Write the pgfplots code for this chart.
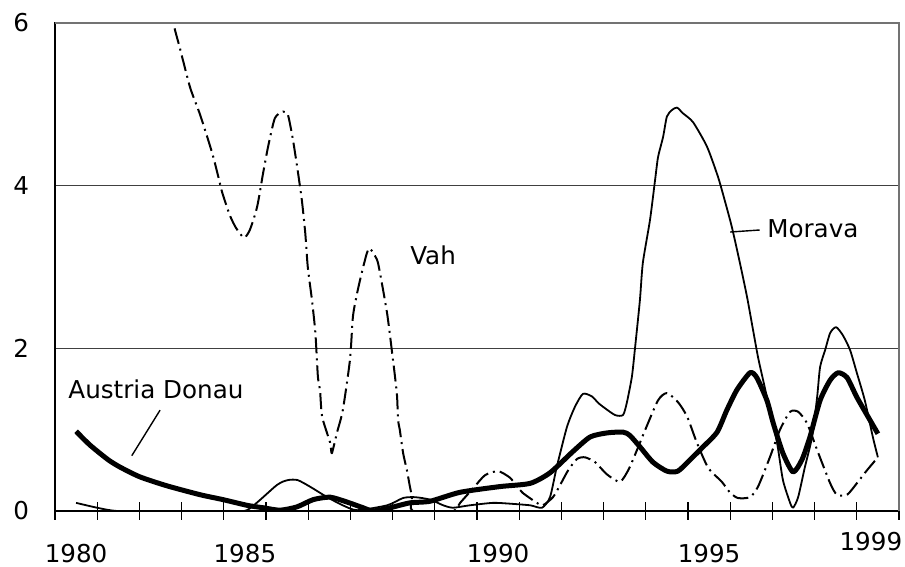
\documentclass[border=0pt]{standalone}
\usepackage{pgfplots}
\pgfplotsset{compat=1.18}
\usepackage{fontspec}
\setmainfont{DejaVu Sans}

\begin{document}
\begin{tikzpicture}
\begin{axis}[
    scale only axis,
    width=422pt, height=244pt,
    xmin=-0.5, xmax=19.5, ymin=0, ymax=6,
    xtick={0,4,10,15},
    xticklabels={1980,1985,1990,1995},
    extra x ticks={19},
    extra x tick labels={1999},
    extra x tick style={xticklabel style={yshift=6pt, xshift=-3.5pt}},
    minor xtick={-0.5,0.5,...,19.5},
    xtick pos=left,
    major tick length=0pt, minor tick length=9pt, tick align=center,
    ytick={0,2,4,6},
    ytick style={draw=none},
    ymajorgrids,
    grid style={black!75, line width=0.5pt},
    axis line style={black, line width=0.8pt},
    tick style={black, line width=0.6pt},
    tick label style={font=\fontsize{12.3}{14}\selectfont},
    xticklabel style={yshift=-13pt},
    yticklabel style={xshift=-9.5pt},
    /pgf/number format/assume math mode=true,
    every axis plot/.append style={black, smooth, tension=0.4, line join=round},
]
% Vah
\addplot[line width=1pt, dash pattern=on 8pt off 2.5pt on 1pt off 2.5pt] coordinates {
(1.5,7.6) (2.30,6.0) (2.46,5.69) (2.70,5.21) (2.94,4.87) (3.22,4.41) (3.37,4.11)
(3.46,3.92) (3.64,3.64) (3.79,3.48) (3.98,3.36) (4.12,3.46) (4.29,3.74) (4.43,4.15)
(4.55,4.48) (4.71,4.83) (4.90,4.91) (5.02,4.87) (5.14,4.56) (5.25,4.19) (5.35,3.82)
(5.43,3.42) (5.49,3.0) (5.59,2.59) (5.67,2.19) (5.73,1.65) (5.78,1.49) (5.83,1.16)
(6.02,0.84) (6.06,0.71) (6.18,0.96) (6.32,1.24) (6.49,1.86) (6.56,2.39) (6.66,2.68)
(6.77,2.93) (6.89,3.17) (6.96,3.23) (7.13,3.09) (7.20,2.93) (7.37,2.43) (7.49,1.94)
(7.60,1.45) (7.63,1.12) (7.67,1.0) (7.75,0.71) (7.84,0.5) (7.91,0.30) (7.96,0.17)
(7.98,0.0) (8.93,0.0) (9.10,0.1) (9.41,0.28) (9.69,0.44) (10.00,0.49) (10.28,0.41)
(10.45,0.30) (10.59,0.22) (10.92,0.1) (11.06,0.07) (11.30,0.17) (11.47,0.32)
(11.66,0.5) (11.87,0.64) (12.06,0.66) (12.30,0.60) (12.58,0.45) (12.89,0.36)
(13.12,0.54) (13.48,0.99) (13.79,1.36) (14.00,1.45) (14.26,1.34) (14.48,1.16)
(14.71,0.84) (14.98,0.53) (15.30,0.36) (15.49,0.23) (15.68,0.16) (15.97,0.17)
(16.16,0.3) (16.44,0.66) (16.68,1.0) (16.92,1.22) (17.11,1.22) (17.32,1.08)
(17.56,0.75) (17.87,0.34) (18.03,0.2) (18.27,0.2) (18.50,0.34) (18.74,0.5) (19.00,0.66)
};
% Morava
\addplot[line width=0.9pt] coordinates {
(0,0.1) (0.50,0.04) (0.97,0.0) (2.0,0.0) (3.5,0.0) (4.05,0.01) (4.76,0.32)
(5.02,0.38) (5.25,0.38) (5.54,0.30) (5.95,0.17) (6.32,0.07) (6.66,0.01) (7.37,0.07)
(7.75,0.16) (8.03,0.17) (8.39,0.14) (8.70,0.07) (8.93,0.04) (9.33,0.07) (9.88,0.1)
(10.28,0.09) (10.76,0.07) (11.04,0.04) (11.23,0.17) (11.39,0.54) (11.63,1.03)
(11.82,1.28) (12.01,1.44) (12.22,1.41) (12.37,1.33) (12.49,1.28) (12.77,1.18)
(12.96,1.18) (13.05,1.33) (13.17,1.65) (13.24,1.98) (13.36,2.59) (13.43,3.05)
(13.60,3.58) (13.72,4.07) (13.79,4.35) (13.91,4.6) (14.00,4.85) (14.12,4.93)
(14.24,4.96) (14.38,4.89) (14.62,4.78) (14.95,4.48) (15.21,4.11) (15.37,3.82)
(15.54,3.49) (15.73,3.05) (15.90,2.63) (16.04,2.23) (16.16,1.89) (16.28,1.61)
(16.44,1.24) (16.61,0.84) (16.75,0.38) (16.92,0.1) (16.99,0.04) (17.11,0.17)
(17.27,0.54) (17.44,0.91) (17.56,1.4) (17.63,1.77) (17.75,1.98) (17.87,2.19)
(18.01,2.26) (18.17,2.16) (18.34,1.98) (18.50,1.70) (18.69,1.36) (18.88,0.91) (19.00,0.66)
};
% Austria Donau
\addplot[line width=2.5pt] coordinates {
(0,0.98) (0.33,0.81) (0.76,0.63) (1.04,0.54) (1.51,0.42) (2.15,0.31) (2.94,0.2)
(3.48,0.14) (4.05,0.07) (4.43,0.04) (4.83,0.01) (5.23,0.05) (5.62,0.14) (6.02,0.17)
(6.42,0.11) (6.80,0.04) (7.04,0.0) (7.44,0.04) (7.91,0.1) (8.39,0.12) (9.10,0.23)
(10.04,0.3) (10.76,0.34) (11.23,0.47) (11.77,0.73) (12.18,0.91) (12.58,0.96)
(12.96,0.97) (13.12,0.93) (13.36,0.79) (13.67,0.6) (14.00,0.49) (14.26,0.49)
(14.55,0.63) (14.86,0.79) (15.19,0.97) (15.42,1.24) (15.66,1.49) (15.97,1.70)
(16.13,1.64) (16.37,1.36) (16.52,1.08) (16.75,0.71) (16.99,0.48) (17.20,0.63)
(17.39,0.91) (17.63,1.36) (17.87,1.61) (18.06,1.70) (18.27,1.64) (18.50,1.4)
(18.81,1.12) (19.00,0.95)
};
\node[anchor=west, inner sep=0pt, font=\fontsize{12.3}{14}\selectfont] at (axis cs:-0.19,1.50) {Austria Donau};
\draw[line width=0.7pt] (axis cs:1.99,1.24) -- (axis cs:1.32,0.68);
\node[anchor=west, inner sep=0pt, font=\fontsize{12.3}{14}\selectfont] at (axis cs:16.37,3.47) {Morava};
\draw[line width=0.7pt] (axis cs:15.5,3.43) -- (axis cs:16.2,3.455);
\node[anchor=west, inner sep=0pt, font=\fontsize{12.3}{14}\selectfont] at (axis cs:7.91,3.14) {Vah};
\end{axis}
\draw[black!55, line width=0.8pt] (current axis.north west) -- (current axis.north east) -- (current axis.south east);
\pgfresetboundingbox
\path ([shift={(-27.5pt,-28pt)}]current axis.south west) rectangle ([shift={(3pt,11.5pt)}]current axis.north east);
\end{tikzpicture}
\end{document}
